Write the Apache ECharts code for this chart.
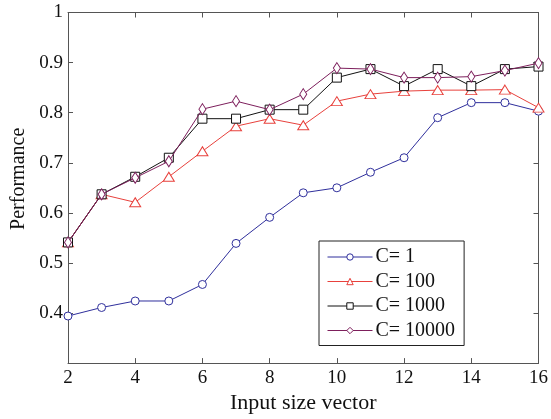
<!DOCTYPE html>
<html>
<head>
<meta charset="utf-8">
<script src="https://cdn.jsdelivr.net/npm/echarts@6/dist/echarts.min.js"></script>
<style>html,body{margin:0;padding:0;background:#fff}#c{width:551px;height:419px}</style>
</head>
<body>
<div id="c"></div>
<script>
const xValues = [2,3,4,5,6,7,8,9,10,11,12,13,14,15,16];
const seriesNames = ['C= 1','C= 100','C= 1000','C= 10000'];
const c1     = [0.394,0.411,0.424,0.424,0.457,0.539,0.591,0.640,0.650,0.681,0.710,0.790,0.820,0.820,0.803];
const c100   = [0.541,0.637,0.621,0.672,0.723,0.773,0.788,0.775,0.823,0.837,0.843,0.845,0.845,0.846,0.810];
const c1000  = [0.541,0.637,0.672,0.710,0.788,0.788,0.806,0.806,0.870,0.887,0.853,0.887,0.853,0.887,0.892];
const c10000 = [0.541,0.637,0.670,0.703,0.807,0.823,0.806,0.837,0.889,0.887,0.870,0.870,0.872,0.884,0.899];
const xTicks = [2,4,6,8,10,12,14,16];
const yTicks = [0.4,0.5,0.6,0.7,0.8,0.9,1];

const font = "'Liberation Serif','DejaVu Serif',serif";
const toPairs = arr => arr.map((v,i)=>[xValues[i], v]);
const styles = [
  {color:'#2f2f9c', symbol:'circle', size:8},
  {color:'#e8413c', symbol:'triangle', size:[11,9]},
  {color:'#111111', symbol:'rect', size:9},
  {color:'#7d1f5c', symbol:'diamond', size:[7,11]}
];
const data = [c1,c100,c1000,c10000];

const chart = echarts.init(document.getElementById('c'));
const axisLine = {show:true, lineStyle:{color:'#555', width:1}};
chart.setOption({
  animation:false,
  backgroundColor:'#fff',
  grid:{left:68, right:10, top:12.5, bottom:54},
  legend:{
    orient:'vertical', left:319, top:241,
    backgroundColor:'#fff',
    borderColor:'#222', borderWidth:1, borderRadius:0,
    padding:[6,9,5,8], itemGap:4.5, itemWidth:45, itemHeight:8,
    lineStyle:{width:1},
    itemStyle:{borderWidth:1},
    textStyle:{fontFamily:font, fontSize:20, lineHeight:20, color:'#111', padding:[0,0,0,-2]},
    data:seriesNames
  },
  xAxis:[{
    type:'value', min:2, max:16, interval:2,
    name:'Input size vector', nameLocation:'middle', nameGap:25,
    nameTextStyle:{fontFamily:font, fontSize:22, color:'#111'},
    axisLine:axisLine, axisTick:{inside:true, length:5, lineStyle:{color:'#555'}},
    axisLabel:{fontFamily:font, fontSize:19, color:'#111', margin:5,
      formatter:v=> xTicks.includes(v) ? String(v) : ''},
    splitLine:{show:false}
  },{
    type:'value', min:2, max:16, interval:2, position:'top',
    axisLine:axisLine, axisTick:{inside:true, length:5, lineStyle:{color:'#555'}},
    axisLabel:{show:false}, splitLine:{show:false}
  }],
  yAxis:[{
    type:'value', min:0.3, max:1, interval:0.1,
    name:'Performance', nameLocation:'middle', nameGap:33,
    nameTextStyle:{fontFamily:font, fontSize:20, color:'#111', padding:[0,0,0,18]},
    axisLine:axisLine, axisTick:{inside:true, length:5, lineStyle:{color:'#555'}},
    axisLabel:{fontFamily:font, fontSize:19, color:'#111', margin:5,
      formatter:v=>{ const r=Math.round(v*10)/10; return yTicks.includes(r) ? (r===1?'1':r.toFixed(1)) : ''; }},
    splitLine:{show:false}
  },{
    type:'value', min:0.3, max:1, interval:0.1, position:'right',
    axisLine:axisLine, axisTick:{inside:true, length:5, lineStyle:{color:'#555'}},
    axisLabel:{show:false}, splitLine:{show:false}
  }],
  series: seriesNames.map((n,i)=>({
    name:n, type:'line', data:toPairs(data[i]),
    symbol:styles[i].symbol, symbolSize:styles[i].size, showAllSymbol:true,
    itemStyle:{color:'#fff', borderColor:styles[i].color, borderWidth:1},
    lineStyle:{color:styles[i].color, width:1},
    z: 2+i
  }))
});
</script>
</body>
</html>
